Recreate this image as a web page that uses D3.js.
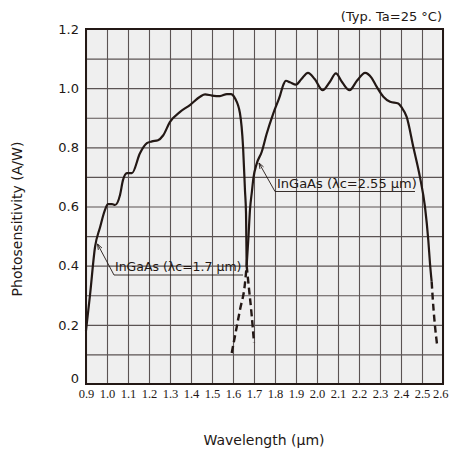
<!DOCTYPE html>
<html>
<head>
<meta charset="utf-8">
<script src="https://cdn.jsdelivr.net/npm/d3@7"></script>
<style>
  html, body { margin: 0; padding: 0; background: #ffffff; }
  svg { display: block; }
</style>
</head>
<body>
<div id="chart"></div>
<script>
// ---- Data ----
const xTickLabels = ["0.9","1.0","1.1","1.2","1.3","1.4","1.5","1.6","1.7","1.8","1.9","2.0","2.1","2.2","2.3","2.4","2.5","2.6"];
const yTickLabels = ["0","0.2","0.4","0.6","0.8","1.0","1.2"];

// InGaAs (λc=1.7 µm) — solid part
const wl17 = [0.900,0.919,0.943,0.967,0.990,1.005,1.024,1.038,1.062,1.076,1.095,1.119,1.157,1.190,1.214,1.243,1.267,1.300,1.348,1.395,1.443,1.467,1.500,1.538,1.571,1.590,1.610,1.633,1.648,1.657,1.662,1.665];
const val17 = [0.180,0.300,0.463,0.530,0.588,0.608,0.608,0.605,0.639,0.689,0.713,0.713,0.780,0.814,0.820,0.824,0.840,0.886,0.920,0.943,0.971,0.979,0.975,0.973,0.980,0.980,0.965,0.916,0.800,0.655,0.577,0.400];
// InGaAs (λc=1.7 µm) — dashed tail
const wl17Tail = [1.665,1.675,1.688,1.700];
const val17Tail = [0.400,0.330,0.240,0.140];

// InGaAs (λc=2.55 µm) — dashed head
const wl255Head = [1.594,1.633,1.657,1.665];
const val255Head = [0.105,0.250,0.340,0.400];
// InGaAs (λc=2.55 µm) — solid part
const wl255 = [1.665,1.673,1.681,1.690,1.697,1.713,1.737,1.760,1.792,1.824,1.840,1.852,1.871,1.900,1.925,1.957,1.990,2.027,2.060,2.090,2.120,2.155,2.190,2.229,2.260,2.284,2.316,2.348,2.387,2.403,2.427,2.459,2.490,2.514,2.530,2.538,2.546];
const val255 = [0.400,0.490,0.590,0.650,0.695,0.745,0.785,0.845,0.915,0.975,1.012,1.025,1.020,1.012,1.030,1.052,1.030,0.993,1.020,1.050,1.020,0.993,1.025,1.052,1.035,1.005,0.971,0.954,0.948,0.935,0.903,0.800,0.700,0.600,0.486,0.408,0.346];
// InGaAs (λc=2.55 µm) — dashed tail
const wl255Tail = [2.546,2.552,2.560,2.573];
const val255Tail = [0.346,0.280,0.210,0.126];

// ---- Layout ----
const W = 449, H = 455;
const ink = "#231815";
const svg = d3.select("#chart").append("svg").attr("width", W).attr("height", H);

const x = d3.scaleLinear().domain([0.9, 2.6]).range([86, 443]);
const y = d3.scaleLinear().domain([0, 1.2]).range([384, 29]);

const gridX = d3.range(9, 27).map(d => d / 10);
const gridY = d3.range(0, 13).map(d => d / 10);

// plot background
svg.append("rect")
  .attr("x", x(0.9)).attr("y", y(1.2))
  .attr("width", x(2.6) - x(0.9)).attr("height", y(0) - y(1.2))
  .attr("fill", "#efefef");

// grid via axes
const gx = svg.append("g").attr("transform", `translate(0,${y(0)})`)
  .call(d3.axisBottom(x).tickValues(gridX).tickSize(-(y(0) - y(1.2))).tickFormat(""));
gx.select(".domain").remove();
gx.selectAll("line").attr("stroke", "#5b5353").attr("stroke-width", 1.1);

const gy = svg.append("g").attr("transform", `translate(${x(0.9)},0)`)
  .call(d3.axisLeft(y).tickValues(gridY).tickSize(-(x(2.6) - x(0.9))).tickFormat(""));
gy.select(".domain").remove();
gy.selectAll("line").attr("stroke", "#5b5353").attr("stroke-width", 1.1);

// frame
svg.append("rect")
  .attr("x", x(0.9)).attr("y", y(1.2))
  .attr("width", x(2.6) - x(0.9)).attr("height", y(0) - y(1.2))
  .attr("fill", "none").attr("stroke", ink).attr("stroke-width", 2);

// tick labels via axes
const ax = svg.append("g").attr("transform", `translate(0,${y(0)})`)
  .call(d3.axisBottom(x).tickValues(xTickLabels.map(Number)).tickSize(0).tickPadding(5)
    .tickFormat((d, i) => xTickLabels[i]));
ax.select(".domain").remove();
ax.selectAll("text").attr("fill", ink)
  .style("font-family", "'Liberation Serif', serif").style("font-size", "12.5px");
// keep the last label inside the window
ax.selectAll(".tick").filter((d, i) => i === xTickLabels.length - 1).select("text")
  .attr("text-anchor", "end").attr("x", W - 1 - x(2.6));

const ay = svg.append("g").attr("transform", `translate(${x(0.9)},0)`)
  .call(d3.axisLeft(y).tickValues(yTickLabels.map(Number)).tickSize(0).tickPadding(7)
    .tickFormat((d, i) => yTickLabels[i]));
ay.select(".domain").remove();
ay.selectAll("text").attr("fill", ink)
  .style("font-family", "'DejaVu Sans', sans-serif").style("font-size", "13px");
ay.selectAll(".tick").filter(d => d === 0).select("text").attr("dy", "-0.1em");

// curves
const line = d3.line().x(d => x(d[0])).y(d => y(d[1])).curve(d3.curveMonotoneX);
const zip = (a, b) => a.map((v, i) => [v, b[i]]);

function drawCurve(a, b, dashed) {
  svg.append("path")
    .datum(zip(a, b))
    .attr("d", line)
    .attr("fill", "none")
    .attr("stroke", ink)
    .attr("stroke-width", dashed ? 2.4 : 2.2)
    .attr("stroke-linejoin", "round")
    .attr("stroke-dasharray", dashed ? "7,4" : null);
}
drawCurve(wl17, val17, false);
drawCurve(wl17Tail, val17Tail, true);
drawCurve(wl255Head, val255Head, true);
drawCurve(wl255, val255, false);
drawCurve(wl255Tail, val255Tail, true);

// annotations (leader + underline + label)
function annotate(tip, elbow, endX, label, textX, fs) {
  const g = svg.append("g");
  g.append("path")
    .attr("d", `M${tip[0]},${tip[1]} L${elbow[0]},${elbow[1]} L${endX},${elbow[1]}`)
    .attr("fill", "none").attr("stroke", ink).attr("stroke-width", 0.9);
  const ang = Math.atan2(elbow[1] - tip[1], elbow[0] - tip[0]);
  const L = 6, s = 0.35;
  const p1 = [tip[0] + L * Math.cos(ang - s), tip[1] + L * Math.sin(ang - s)];
  const p2 = [tip[0] + L * Math.cos(ang + s), tip[1] + L * Math.sin(ang + s)];
  g.append("path")
    .attr("d", `M${p1[0]},${p1[1]} L${tip[0]},${tip[1]} L${p2[0]},${p2[1]}`)
    .attr("fill", "none").attr("stroke", ink).attr("stroke-width", 0.9);
  g.append("text")
    .attr("x", textX).attr("y", elbow[1] - 4)
    .attr("fill", ink)
    .style("font-family", "'DejaVu Sans', sans-serif").style("font-size", fs + "px")
    .text(label);
}
annotate([97.5, 244], [114, 275], 243, "InGaAs (\u03bbc=1.7 \u00b5m)", 115, 12.5);
annotate([259, 163], [275, 191.5], 415, "InGaAs (\u03bbc=2.55 \u00b5m)", 277, 13);

// header / axis titles
svg.append("text")
  .attr("x", 442).attr("y", 21).attr("text-anchor", "end")
  .attr("fill", ink)
  .style("font-family", "'DejaVu Sans', sans-serif").style("font-size", "13px")
  .text("(Typ. Ta=25 \u00b0C)");

svg.append("text")
  .attr("x", 264).attr("y", 445).attr("text-anchor", "middle")
  .attr("fill", ink)
  .style("font-family", "'DejaVu Sans', sans-serif").style("font-size", "14px")
  .text("Wavelength (\u00b5m)");

svg.append("text")
  .attr("transform", "translate(22,219) rotate(-90)")
  .attr("text-anchor", "middle")
  .attr("fill", ink)
  .style("font-family", "'DejaVu Sans', sans-serif").style("font-size", "14px")
  .text("Photosensitivity (A/W)");
</script>
</body>
</html>
